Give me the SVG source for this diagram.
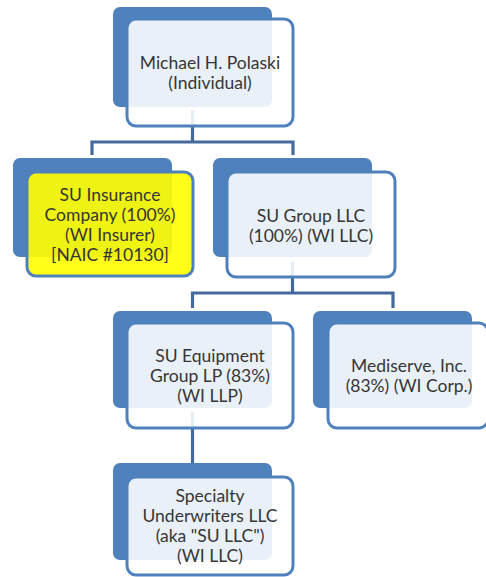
<svg xmlns="http://www.w3.org/2000/svg" width="486" height="577" viewBox="0 0 486 577">
<style>
.back{fill:#4f81bd}
.front{fill:#ffffff;fill-opacity:0.88;stroke:#4f81bd;stroke-width:3}
.yellow{fill:#ffff00;fill-opacity:0.9;stroke:#4f81bd;stroke-width:3}
.conn{fill:none;stroke:#44699c;stroke-width:3.2;stroke-linejoin:miter}
text{font-family:Lato,"Liberation Sans",sans-serif;font-size:17.5px;fill:#363636;text-anchor:middle}
</style>
<rect width="486" height="577" fill="#ffffff"/>
<g id="connectors">
<path class="conn" d="M192.5,110 V142 M92,155 V142 H293 V155"/>
<path class="conn" d="M292.5,262 V293 M192.5,308 V293 H393 V308"/>
<path class="conn" d="M192.5,412 V463"/>
</g>
<g id="michael">
<rect class="back" x="113" y="7" width="159" height="100" rx="7"/>
<rect class="front" x="127" y="19" width="166" height="107" rx="9"/>
<text x="210" y="69">Michael H. Polaski</text>
<text x="210" y="89">(Individual)</text>
</g>
<g id="su-insurance">
<rect class="back" x="13" y="158" width="159" height="99" rx="7"/>
<rect class="yellow" x="27" y="172" width="166" height="104" rx="9"/>
<text x="110" y="201">SU Insurance</text>
<text x="110" y="221">Company (100%)</text>
<text x="110" y="241">(WI Insurer)</text>
<text x="110" y="261">[NAIC #10130]</text>
</g>
<g id="su-group">
<rect class="back" x="213" y="158" width="159" height="99" rx="7"/>
<rect class="front" x="227" y="172" width="168" height="105" rx="9"/>
<text x="311" y="222">SU Group LLC</text>
<text x="311" y="242">(100%) (WI LLC)</text>
</g>
<g id="su-equipment">
<rect class="back" x="113" y="311" width="159" height="97" rx="7"/>
<rect class="front" x="127" y="323" width="166" height="105" rx="9"/>
<text x="210" y="362">SU Equipment</text>
<text x="210" y="382">Group LP (83%)</text>
<text x="210" y="402">(WI LLP)</text>
</g>
<g id="mediserve">
<rect class="back" x="313" y="311" width="159" height="97" rx="7"/>
<rect class="front" x="328" y="323" width="160" height="105" rx="9"/>
<text x="409" y="372">Mediserve, Inc.</text>
<text x="409" y="392">(83%) (WI Corp.)</text>
</g>
<g id="specialty">
<rect class="back" x="113" y="463" width="159" height="97" rx="7"/>
<rect class="front" x="127" y="477" width="166" height="98" rx="9"/>
<text x="210" y="502">Specialty</text>
<text x="210" y="522">Underwriters LLC</text>
<text x="210" y="542">(aka "SU LLC")</text>
<text x="210" y="562">(WI LLC)</text>
</g>
</svg>
